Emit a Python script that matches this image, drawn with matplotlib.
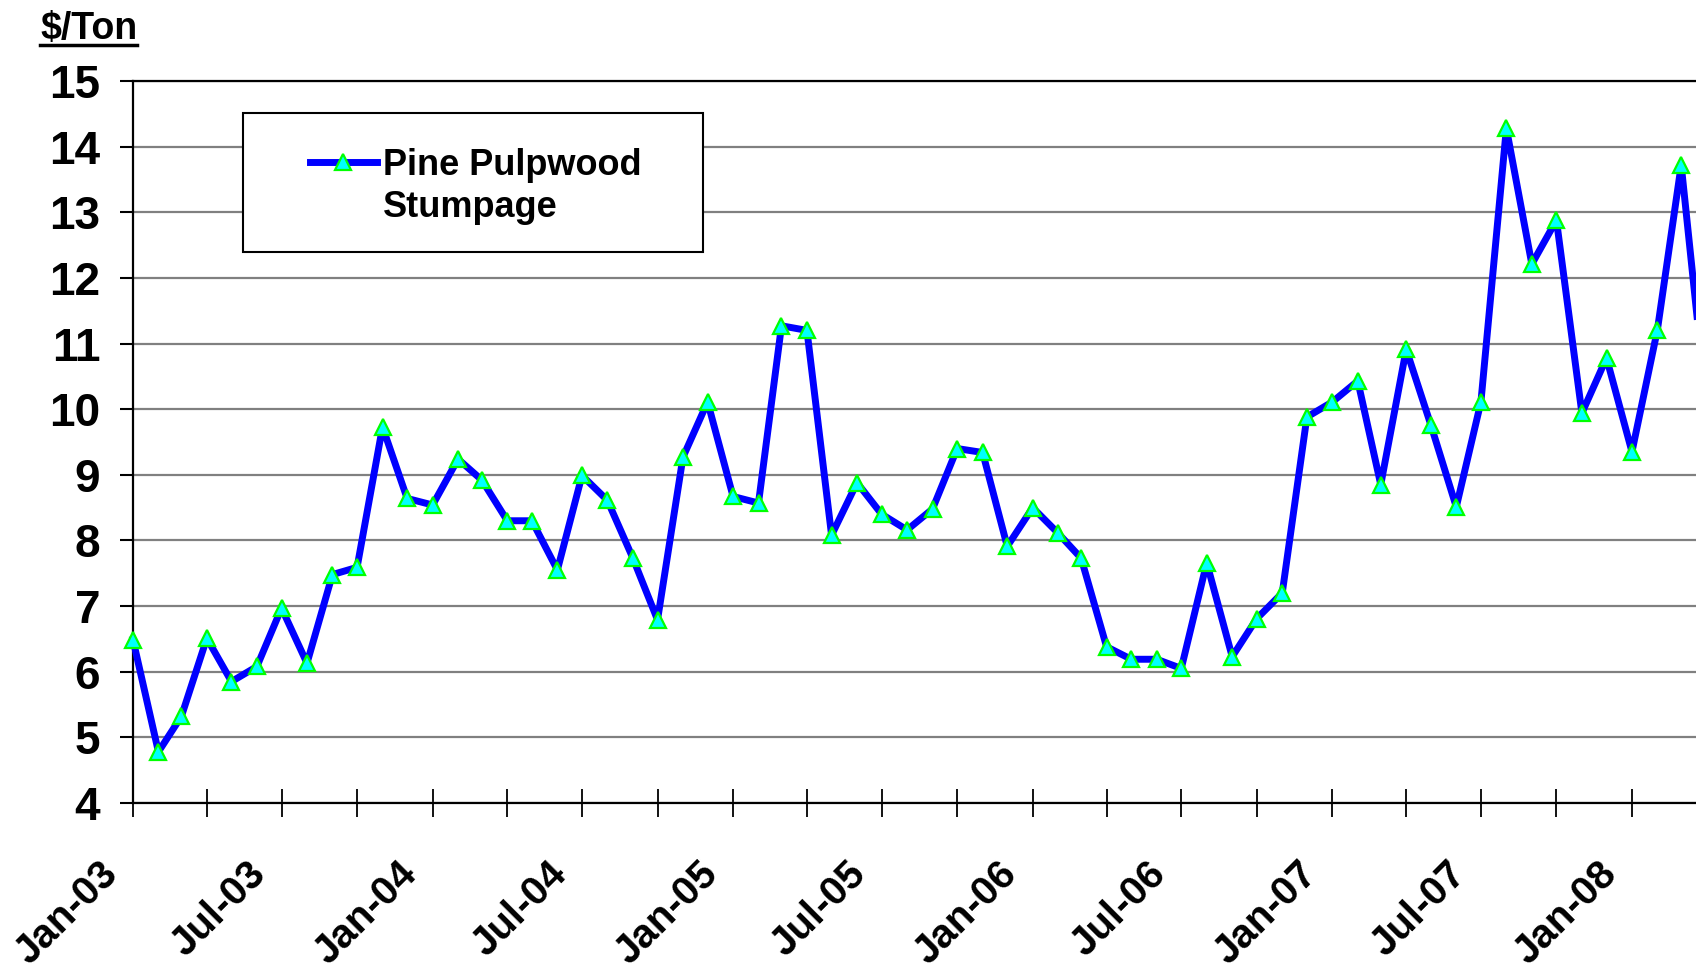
import matplotlib
matplotlib.use("Agg")
import matplotlib.pyplot as plt
import matplotlib.dates as mdates
import matplotlib.transforms as mtransforms
from matplotlib.patches import Rectangle
from matplotlib.lines import Line2D
import pandas as pd

plt.rcParams['font.family'] = ['Liberation Sans', 'DejaVu Sans']
plt.rcParams['font.weight'] = 'bold'

# monthly pine pulpwood stumpage prices ($/ton), Jan-03 .. Apr-08
months = pd.date_range("2003-01-01", periods=64, freq="MS")
prices = [
    6.49, 4.78, 5.32, 6.51, 5.85, 6.08, 6.97, 6.13, 7.48, 7.59, 9.73, 8.64,
    8.54, 9.24, 8.92, 8.30, 8.30, 7.55, 8.99, 8.61, 7.73, 6.79, 9.27, 10.11,
    8.67, 8.57, 11.27, 11.20, 8.08, 8.88, 8.40, 8.16, 8.48, 9.40, 9.34, 7.91,
    8.50, 8.11, 7.73, 6.38, 6.19, 6.19, 6.05, 7.66, 6.23, 6.81, 7.20, 9.88,
    10.11, 10.43, 8.85, 10.91, 9.76, 8.51, 10.11, 14.28, 12.21, 12.88, 9.94, 10.78,
    9.35, 11.21, 13.72, 10.0,
]
series_label = "Pine Pulpwood"
series_label2 = "Stumpage"
label_dates = pd.date_range("2003-01-01", "2008-01-01", freq="6MS")
y_ticks = list(range(4, 16))

fig = plt.figure(figsize=(16.96, 9.73), dpi=100)
ax = fig.add_axes([0.0784, 0.1747, 0.9216, 0.7421])

ax.plot(months, prices, color="#0000FF", lw=5, marker="^", markersize=11.5,
        markerfacecolor="#00FFFF", markeredgecolor="#00FF00", markeredgewidth=1.6,
        label=series_label, zorder=3, clip_on=False)

ax.set_ylim(4, 15)
ax.set_xlim(pd.Timestamp("2003-01-01"), pd.Timestamp("2008-03-19"))
ax.set_yticks(y_ticks)
ax.yaxis.grid(True, color="#808080", lw=1.6)
ax.set_axisbelow(True)

for s in ["left", "bottom", "top"]:
    ax.spines[s].set_linewidth(1.6)
    ax.spines[s].set_color("black")
ax.spines["right"].set_visible(False)

ax.tick_params(axis="y", direction="out", length=9.5, width=1.5, pad=14,
               labelsize=33)
for t in ax.get_yticklabels():
    t.set_fontweight("bold")

ax.xaxis.set_major_locator(mdates.MonthLocator(bymonth=[1, 4, 7, 10]))
ax.xaxis.set_major_formatter(plt.NullFormatter())
ax.tick_params(axis="x", direction="inout", length=20, width=1.3)

# rotated date labels
trans = mtransforms.blended_transform_factory(ax.transData, ax.transAxes)
trans = mtransforms.offset_copy(trans, fig=fig, x=-35, y=-52, units="dots")
for d in label_dates:
    ax.text(d, 0, d.strftime("%b-%y"), transform=trans, rotation=45,
            rotation_mode="anchor", ha="right", va="top", fontsize=29,
            fontweight="bold")

# legend box
ax.add_patch(Rectangle((0.0704, 0.7632), 0.2943, 0.1925, transform=ax.transAxes,
                       facecolor="white", edgecolor="black", lw=1.5, zorder=4))
blank = Line2D([], [], color="none")
leg = ax.legend([ax.lines[0], blank], [series_label, series_label2],
                loc="upper left", bbox_to_anchor=(0.1132, 0.907),
                frameon=False, handlelength=1.86,
                handletextpad=0.17, labelspacing=0.18, borderpad=0,
                borderaxespad=0, prop={"weight": "bold", "size": 26})
leg.set_zorder(5)

# title with underline
title = fig.text(40 / 1696, 1 - 39 / 973, "$/Ton", fontsize=27,
                 fontweight="bold", ha="left", va="baseline")
fig.canvas.draw()
bb = title.get_window_extent()
inv = fig.transFigure.inverted()
x0, y0 = inv.transform((bb.x0, bb.y0 + 2))
x1, _ = inv.transform((bb.x1, bb.y0))
fig.add_artist(Line2D([x0, x1], [y0, y0], transform=fig.transFigure,
                      color="black", lw=2.5))

fig.savefig("out.png", dpi=100)
